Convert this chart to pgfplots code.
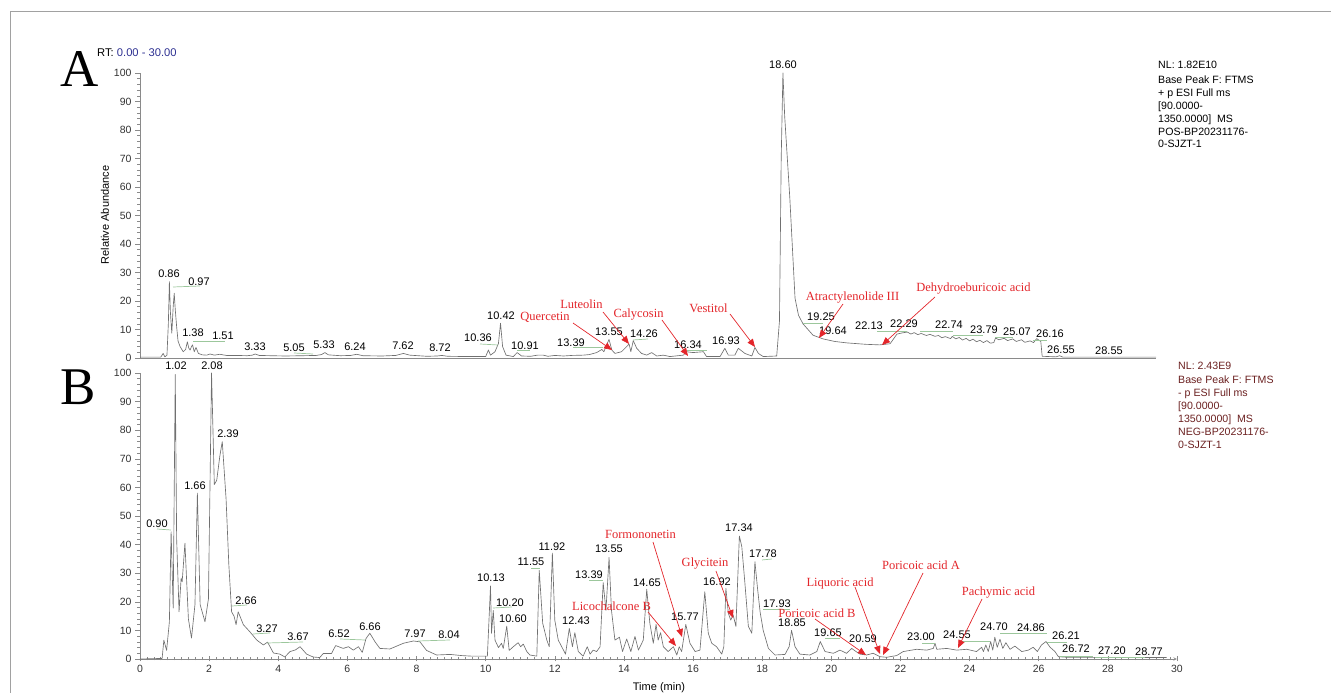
\documentclass[border=0pt]{standalone}
\usepackage{fontspec}
\setmainfont{Liberation Serif}
\newfontfamily\arial{Liberation Sans}
\usepackage{pgfplots}
\pgfplotsset{compat=1.18}
\usetikzlibrary{arrows.meta}
\definecolor{trace}{HTML}{707070}
\definecolor{axc}{HTML}{8A8A8A}
\definecolor{annred}{HTML}{E3262B}
\definecolor{leader}{HTML}{9CC79C}
\definecolor{navy}{HTML}{2E3192}
\definecolor{darkred}{HTML}{6B2020}
\newcommand\lbl{\arial\fontsize{11}{12}\selectfont}
\newcommand\nl{\arial\fontsize{10.6}{12}\selectfont}
\newcommand\rlbl{\fontsize{12.5}{14}\selectfont}
\pgfplotsset{
  chrom/.style={
    scale only axis, width=1037pt, xmin=0, xmax=30, ymin=0, ymax=100,
    axis y line=left, axis line style={-, draw=axc, line width=0.6pt},
    tick style={draw=axc, line width=0.5pt}, tick align=outside,
    major tick length=5pt, minor tick length=3pt,
    ytick={0,10,...,100}, minor y tick num=4,
    ticklabel style={font=\arial\fontsize{10.5}{12}\selectfont, text=black!80},
    /pgf/number format/assume math mode=true,
    clip=false,
  }
}
\begin{document}
\begin{tikzpicture}
\useasboundingbox (0,0) rectangle (1331pt,693pt);
% ---------------- Panel A ----------------
\begin{axis}[chrom, height=285pt, at={(140pt,335pt)}, anchor=south west,
  axis x line=none, xtick=\empty]
\draw[axc, line width=0.6pt] (axis cs:0,0) -- (axis cs:29.4,0);
\addplot[trace, line width=0.65pt, line join=round] coordinates {
(0,0.3) (0.6,0.3) (0.67,1.6) (0.72,0.4) (0.78,1) (0.82,12) (0.85,26.8) (0.88,16) (0.92,8.7) (0.96,18) (0.99,22.7) (1.02,17) (1.06,11) (1.1,6) (1.16,4) (1.25,2.2) (1.32,3) (1.37,5.7) (1.41,3.5) (1.45,2.8) (1.49,4) (1.52,4.6) (1.57,2.2) (1.62,3.7) (1.69,1.6) (1.8,1.1) (1.93,1) (2.03,1.4) (2.15,1.0) (2.31,1.3) (2.5,0.9) (2.8,0.9) (3.1,0.8) (3.25,1.0) (3.33,1.4) (3.45,0.9) (3.8,0.8) (4.2,0.7) (4.7,0.8) (5.1,0.9) (5.25,1.2) (5.35,1.9) (5.45,1.1) (5.8,0.8) (6.1,0.9) (6.27,1.3) (6.45,0.8) (7.0,0.7) (7.4,0.9) (7.62,1.6) (7.8,1.0) (8.3,0.6) (8.6,0.7) (8.73,0.9) (8.9,0.6) (9.5,0.5) (10.0,0.5) (10.08,2.8) (10.14,1) (10.27,2.2) (10.37,5.1) (10.43,12.2) (10.49,4) (10.59,1) (10.8,0.5) (10.91,1.9) (11.04,0.7) (11.3,0.6) (11.5,1.0) (11.67,1) (11.8,0.6) (12.0,0.9) (12.25,0.7) (12.5,0.9) (12.82,1) (13.0,1.2) (13.21,1.9) (13.36,3) (13.42,2.2) (13.5,4.6) (13.57,6.5) (13.65,2.8) (13.74,1.6) (13.93,2.2) (14.08,4) (14.15,4.9) (14.2,2.2) (14.27,6.1) (14.37,3.4) (14.51,1.6) (14.66,1) (14.8,1.9) (14.95,0.7) (15.14,1) (15.33,0.5) (15.72,1) (15.81,2.2) (16.0,1.9) (16.3,2.2) (16.39,0.5) (16.78,0.5) (16.92,3.4) (17.02,1) (17.21,1) (17.31,3.4) (17.5,1.6) (17.7,0.7) (17.79,3.7) (17.89,1.6) (18.03,0.5) (18.42,0.7) (18.5,13) (18.55,70) (18.6,100) (18.65,85) (18.8,56) (18.95,21) (19.05,15) (19.18,12) (19.47,8) (19.76,6.7) (20.1,5.8) (20.45,5.3) (21.0,4.8) (21.4,4.6) (21.7,5) (21.9,8.4) (22.05,8.8) (22.2,9.1) (22.3,8.4) (22.4,8.9) (22.5,8.2) (22.6,8.6) (22.75,7.9) (22.85,8.3) (23.0,7.6) (23.1,7.9) (23.2,7.1) (23.3,7.5) (23.45,6.8) (23.5,7.6) (23.6,6.7) (23.7,7.2) (23.8,6.3) (23.9,6.9) (24.0,6.0) (24.1,6.6) (24.2,5.7) (24.3,6.2) (24.4,5.4) (24.5,6.1) (24.6,5.2) (24.7,5.4) (24.75,7) (24.85,6.4) (25.0,6.9) (25.1,6.1) (25.25,6.7) (25.35,5.8) (25.5,6.4) (25.6,5.5) (25.75,6.0) (25.85,5.4) (25.94,6.8) (26.06,5.8) (26.1,0.6) (26.5,0.4) (26.6,0.8) (26.7,0.3) (29.4,0.3)
};
\end{axis}
% ---------------- Panel B ----------------
\begin{axis}[chrom, height=286pt, at={(140pt,34pt)}, anchor=south west,
  axis x line=bottom, xtick={0,2,...,30}, minor x tick num=9]
\addplot[trace, line width=0.65pt, line join=round] coordinates {
(0,0) (0.64,0.2) (0.69,6.6) (0.77,3) (0.85,13) (0.90,44.5) (0.96,17.8) (1.02,99.5) (1.06,42) (1.13,16.5) (1.19,28.3) (1.22,27) (1.30,40.5) (1.40,14) (1.49,7.3) (1.59,19) (1.66,58) (1.74,19) (1.88,13) (1.98,21) (2.07,100) (2.15,61) (2.22,62.5) (2.31,71) (2.38,76) (2.49,56) (2.57,33) (2.65,16.5) (2.72,15) (2.78,12) (2.84,16.5) (2.99,12) (3.18,9.5) (3.38,6.6) (3.57,4.9) (3.69,5.9) (3.86,2.1) (4.05,1.7) (4.19,0.7) (4.34,2.6) (4.50,3.2) (4.63,4.3) (4.82,1.7) (5.01,0.7) (5.2,0.5) (5.3,1.9) (5.54,1.9) (5.66,4.7) (5.88,3.7) (6.03,4.3) (6.17,3.1) (6.32,4.3) (6.43,2.3) (6.54,7.2) (6.65,9) (6.8,6) (6.94,3.7) (7.23,3.5) (7.62,5.5) (7.91,6.3) (8.1,6) (8.29,3) (8.58,1.4) (8.97,1.6) (9.3,1.2) (9.6,1.0) (10.05,1.0) (10.14,25.5) (10.17,9) (10.22,17) (10.27,6.6) (10.37,4) (10.46,5.5) (10.51,3.7) (10.61,11.5) (10.68,3) (10.8,4.3) (10.94,5.7) (11.01,4.3) (11.09,5.2) (11.19,2.6) (11.28,1.4) (11.48,1) (11.55,31) (11.65,12.5) (11.77,6.6) (11.84,4.3) (11.93,37) (12.0,13.6) (12.1,6.6) (12.2,4.3) (12.31,1.7) (12.42,10.7) (12.51,4.3) (12.58,9.2) (12.68,2.6) (12.82,1) (12.94,4.3) (13.02,1.7) (13.11,3.1) (13.21,2.6) (13.31,4.3) (13.40,26.7) (13.48,17) (13.57,35.5) (13.64,17) (13.74,6.6) (13.87,7.6) (13.96,2.6) (14.08,7) (14.2,2.6) (14.32,7.9) (14.42,3.1) (14.56,6.6) (14.66,24.4) (14.75,12.5) (14.85,5.5) (14.93,12.1) (14.99,6.6) (15.06,9.2) (15.14,4.3) (15.28,2.6) (15.43,4.3) (15.53,1.4) (15.60,4.3) (15.67,2.6) (15.79,12.1) (15.91,5.5) (16.06,2.6) (16.2,3.1) (16.34,23.5) (16.44,9) (16.54,5.5) (16.68,4.3) (16.83,1.7) (16.89,4.3) (16.95,24.7) (17.02,16) (17.09,13.6) (17.16,15.4) (17.24,11.4) (17.34,43) (17.41,39.3) (17.5,26.5) (17.6,11.4) (17.7,9) (17.79,34) (17.86,25.3) (17.94,16.4) (18.03,10) (18.18,3.7) (18.37,1.4) (18.66,1.6) (18.78,4.3) (18.85,10) (18.95,4.3) (19.09,1.7) (19.38,1.4) (19.58,2.6) (19.68,6.1) (19.82,2.6) (20.06,2) (20.25,3.1) (20.44,2) (20.59,3.7) (20.68,2.9) (20.83,1.7) (21.02,1.4) (21.21,2) (21.41,0.8) (21.6,0.6) (21.89,1.2) (22.08,2.6) (22.47,3.4) (22.76,3.1) (22.95,3.7) (23.0,5.5) (23.05,3.4) (23.34,3.7) (23.63,3.1) (23.92,3.4) (24.2,2.6) (24.35,4.1) (24.4,2.6) (24.47,4.9) (24.54,2.6) (24.61,6.1) (24.67,3.1) (24.73,7.6) (24.8,4.1) (24.88,6.9) (24.96,3.7) (25.05,5.7) (25.17,3.4) (25.31,4.5) (25.51,2.6) (25.7,3.1) (25.84,4.1) (25.96,2.6) (26.08,4.9) (26.21,6.1) (26.33,4.1) (26.47,2.6) (26.57,0.8) (26.81,0.6) (29.7,0.5)
};
\end{axis}
% ---------------- annotations (pixel coordinates, y downward) ----------------
\begin{scope}[x=1pt, y=-1pt, shift={(0pt,693pt)}]
\draw[axc!80, line width=1pt] (10,705) -- (10,12) -- (1340,12);
\node[inner sep=0, font=\fontsize{53}{53}\selectfont] at (80,69.5) {A};
\node[inner sep=0, font=\fontsize{53}{53}\selectfont] at (78,387) {B};
\node[anchor=west, inner sep=0, font=\arial\fontsize{11.2}{12}\selectfont] at (97,53) {RT:\ \textcolor{navy}{0.00 - 30.00}};
\node[rotate=90, inner sep=0, font=\arial\fontsize{11}{12}\selectfont] at (105,215) {Relative Abundance};
\node[inner sep=0, font=\arial\fontsize{11}{12}\selectfont] at (659,688) {Time (min)};
% NL text A
\begin{scope}[every node/.style={anchor=base west, inner sep=0, font=\nl}]
\node at (1158,69) {NL: 1.82E10};
\node at (1158,84) {Base Peak F: FTMS};
\node at (1158,97) {+ p ESI Full ms};
\node at (1158,110) {[90.0000-};
\node at (1158,123) {1350.0000]\ \ MS};
\node at (1158,136) {POS-BP20231176-};
\node at (1158,148) {0-SJZT-1};
\end{scope}
\begin{scope}[every node/.style={anchor=base west, inner sep=0, font=\nl, text=darkred}]
\node at (1178,370) {NL: 2.43E9};
\node at (1178,384) {Base Peak F: FTMS};
\node at (1178,397) {- p ESI Full ms};
\node at (1178,410) {[90.0000-};
\node at (1178,423) {1350.0000]\ \ MS};
\node at (1178,436) {NEG-BP20231176-};
\node at (1178,449) {0-SJZT-1};
\end{scope}
% green leader lines
\begin{scope}[leader, line width=0.7pt]
\draw (173,287) -- (200,286);
\draw (193,341) -- (225,341);
\draw (294,353) -- (313,354);
\draw (480,344) -- (498,345);
\draw (517,350) -- (530,350);
\draw (573,347) -- (603,347);
\draw (633,340) -- (648,339);
\draw (687,350) -- (707,350);
\draw (803,323) -- (823,323);
\draw (877,331) -- (907,331);
\draw (920,331) -- (953,331);
\draw (953,335) -- (983,335);
\draw (995,337) -- (1013,337);
\draw (1033,340) -- (1047,340);
\draw (157,529) -- (171,530);
\draw (232,606) -- (247,605);
\draw (253,634) -- (270,633);
\draw (267,643) -- (303,642);
\draw (340,639) -- (365,640);
\draw (418,641) -- (450,640);
\draw (493,608) -- (512,607);
\draw (531,568) -- (540,568);
\draw (589,580) -- (603,580);
\draw (763,609) -- (790,609);
\draw (762,560) -- (772,559);
\draw (825,638) -- (840,638);
\draw (922,643) -- (935,643);
\draw (960,641) -- (990,641);
\draw (1000,633) -- (1047,633);
\draw (1047,642) -- (1067,642);
\draw (1060,656) -- (1093,656);
\draw (1095,657) -- (1145,657);
\end{scope}
% peak labels A
\begin{scope}[every node/.style={inner sep=0, font=\lbl}]
\node at (169,274) {0.86};
\node at (199,282) {0.97};
\node at (193,333) {1.38};
\node at (223,336) {1.51};
\node at (255,347) {3.33};
\node at (294,348) {5.05};
\node at (324,345) {5.33};
\node at (355,347) {6.24};
\node at (403,346) {7.62};
\node at (440,348) {8.72};
\node at (478,338) {10.36};
\node at (501,316) {10.42};
\node at (525,346) {10.91};
\node at (571,343) {13.39};
\node at (609,332) {13.55};
\node at (644,334) {14.26};
\node at (688,345) {16.34};
\node at (726,341) {16.93};
\node at (783,65) {18.60};
\node at (821,317) {19.25};
\node at (833,331) {19.64};
\node at (869,326) {22.13};
\node at (904,324) {22.29};
\node at (949,325) {22.74};
\node at (984,330) {23.79};
\node at (1017,332) {25.07};
\node at (1050,334) {26.16};
\node at (1061,350) {26.55};
\node at (1109,351) {28.55};
% peak labels B
\node at (176,366) {1.02};
\node at (212,366) {2.08};
\node at (228,434) {2.39};
\node at (195,486) {1.66};
\node at (157,524) {0.90};
\node at (246,601) {2.66};
\node at (267,629) {3.27};
\node at (298,637) {3.67};
\node at (339,634) {6.52};
\node at (370,627) {6.66};
\node at (415,634) {7.97};
\node at (449,635) {8.04};
\node at (491,578) {10.13};
\node at (510,603) {10.20};
\node at (513,619) {10.60};
\node at (531,562) {11.55};
\node at (552,547) {11.92};
\node at (576,621) {12.43};
\node at (589,575) {13.39};
\node at (609,549) {13.55};
\node at (647,583) {14.65};
\node at (685,617) {15.77};
\node at (717,582) {16.92};
\node at (739,528) {17.34};
\node at (763,554) {17.78};
\node at (777,604) {17.93};
\node at (792,623) {18.85};
\node at (828,633) {19.65};
\node at (863,639) {20.59};
\node at (921,637) {23.00};
\node at (957,635) {24.55};
\node at (994,627) {24.70};
\node at (1031,628) {24.86};
\node at (1066,636) {26.21};
\node at (1076,649) {26.72};
\node at (1112,651) {27.20};
\node at (1149,652) {28.77};
\end{scope}
% red compound annotations
\begin{scope}[every node/.style={inner sep=0, font=\rlbl, text=annred}]
\node at (545,317) {Quercetin};
\node at (581.5,304) {Luteolin};
\node at (638.5,315) {Calycosin};
\node at (708.5,308) {Vestitol};
\node at (852.5,298) {Atractylenolide III};
\node at (973.5,289) {Dehydroeburicoic acid};
\node at (640.5,534) {Formononetin};
\node at (611.5,606) {Licochalcone B};
\node at (705,564) {Glycitein};
\node at (840,583) {Liquoric acid};
\node at (817,613) {Poricoic acid B};
\node at (921,565) {Poricoic acid A};
\node at (998.5,593) {Pachymic acid};
\end{scope}
\begin{scope}[annred, line width=0.7pt, -{Triangle[length=8pt,width=6.5pt]}]
\draw (573,323) -- (612,350);
\draw (603,312) -- (629,344);
\draw (662,320) -- (688,356);
\draw (730,314) -- (755,347);
\draw (843,304) -- (819,338);
\draw (935,297) -- (882,345);
\draw (653,542) -- (682,637);
\draw (648,612) -- (676,646);
\draw (716,571) -- (733,618);
\draw (855,587) -- (880,654);
\draw (815,619) -- (866,655);
\draw (923,573) -- (883,655);
\draw (982,599) -- (958,648);
\end{scope}
\end{scope}
\end{tikzpicture}
\end{document}
